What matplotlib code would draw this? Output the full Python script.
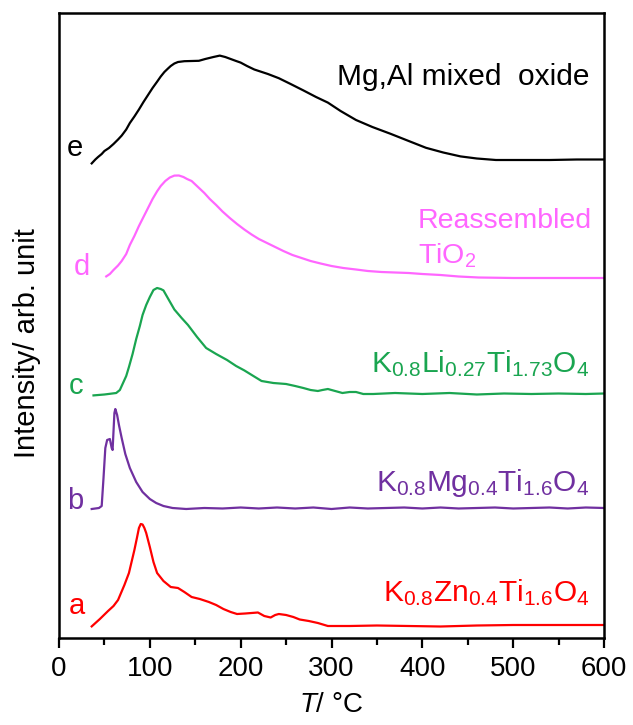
import matplotlib
matplotlib.use('Agg')
import matplotlib.pyplot as plt
from matplotlib.ticker import MultipleLocator

plt.rcParams['font.family'] = ['Liberation Sans', 'DejaVu Sans']
plt.rcParams['mathtext.fontset'] = 'custom'
plt.rcParams['mathtext.rm'] = 'Liberation Sans'
plt.rcParams['mathtext.it'] = 'Liberation Sans:italic'

# TPD-type curves, intensity in arb. unit above each curve's own baseline
T_a = [36, 45, 54, 60, 65, 72, 77, 83, 86, 88, 90, 92, 94, 96, 100, 104, 108, 115, 123, 131, 138, 146, 155,
       165, 173, 181, 189, 196, 205, 212, 219, 226, 233, 238, 242, 250, 258, 265, 275, 285, 296,
       320, 350, 385, 420, 460, 500, 550, 600]
I_a = [-1.4, 6, 14, 19, 25, 40, 52, 75, 88, 97, 101, 100.5, 97, 92, 78, 63, 52, 44, 38, 37, 33, 28, 26,
       23, 20, 16, 13, 11, 11.5, 12, 12.5, 9, 7.5, 10, 11, 10, 8, 5.5, 4, 2, -1,
       -1, -0.5, -1, -1.5, -0.5, 0, 0, 0]

T_b = [36, 44, 47, 49, 51, 53, 56, 58, 59, 61, 62, 64, 66, 69, 73, 78, 85, 92, 100, 107,
       115, 125, 140, 160, 180, 200, 220, 240, 260, 280, 300, 320, 340, 360, 380, 400, 420,
       440, 460, 480, 500, 520, 540, 560, 580, 600]
I_b = [-1, 0, 2, 30, 60, 68, 69, 60, 58, 95, 99, 93, 83, 70, 54, 40, 26, 16, 9, 5,
       2, 0, -1, 0, -0.5, 0.5, -0.5, 0.5, -0.5, 0.5, -1, 0.5, -0.5, 0, 0.5, -0.5, 0.5,
       -0.5, 0, 0.5, -0.5, 0, 0.5, -0.5, 0.5, 0]

T_c = [38, 50, 63, 67, 70, 74, 77, 81, 85, 89, 92, 96, 100, 104, 108, 112, 115, 121, 127, 135, 142, 152, 162, 173,
       185, 195, 204, 214, 223, 236, 250, 260, 269, 277, 285, 290, 296, 304, 312, 320, 327,
       335, 346, 370, 400, 430, 460, 490, 520, 550, 580, 600]
I_c = [-1.4, -0.5, 1, 4, 10, 18, 27, 40, 55, 68, 79, 89, 97, 104, 106, 105, 103.6, 94, 84.5, 76, 69, 57, 46, 40,
       34, 28, 23.6, 18, 13, 11, 10, 8, 6, 4, 3, 4, 5, 3, 1, 2, 2,
       0, 0, 1, 0, 1, -0.5, 0.5, 0, 0.5, 0, 0.5]

T_d = [52, 56, 60, 65, 69, 74, 78, 83, 88, 93, 98, 103, 108, 112, 117, 122, 127, 132, 137, 141,
       146, 153, 160, 166, 173, 180, 188, 196, 204, 212, 220, 229, 238, 247, 257, 267,
       277, 288, 300, 313, 327, 340, 355, 370, 385, 400, 420, 440, 462, 500, 550, 600]
I_d = [1.6, 4, 8, 12.5, 17, 24, 33, 42, 52, 61, 70, 79, 86.7, 92, 97, 100.5, 102.4, 102.5, 101, 99,
       97, 91, 85, 79, 73, 66.5, 60, 54, 48.5, 43.5, 39, 35, 31, 27, 23, 20,
       17, 14.5, 12, 10, 8.5, 7, 6, 5.5, 5, 4, 3, 1.5, 0.5, 0, 0, 0]

T_e = [36, 40, 43, 47, 50, 55, 60, 65, 69, 74, 78, 83, 88, 93, 98, 103, 108, 112, 116, 120, 123,
       127, 131, 138, 146, 154, 161, 170, 177, 183, 189, 195, 200, 207,
       215, 230, 242, 255, 269, 283, 296, 310, 327, 345, 365, 385, 404, 423, 442, 460, 481,
       510, 540, 570, 600]
I_e = [-3.4, 0.5, 3, 6, 9, 12, 16, 20.5, 24.4, 30.5, 37, 43.5, 50.5, 58, 65, 72, 78.3, 83.5, 88, 91.5, 94,
       96.5, 98, 98.8, 99, 99.2, 101, 103, 104.4, 103, 101, 99, 97.4, 94,
       90.5, 86, 81.8, 76, 69.6, 63, 57.4, 49, 40, 33, 26.2, 19, 12.2, 7.5, 3.6, 1.5, 0,
       0, 0, 0.5, 0.5]

curves = [(T_a, I_a), (T_b, I_b), (T_c, I_c), (T_d, I_d), (T_e, I_e)]
offsets = [13, 130, 244, 360, 478]
letters = ['a', 'b', 'c', 'd', 'e']
colors = ['#FF0000', '#7030A0', '#1AA550', '#FF66FF', '#000000']
letter_x = [20, 17.6, 19, 25, 17.6]
letter_y = [24, 129, 244, 363, 482]

names = [r'$\mathrm{K_{0.8}Zn_{0.4}Ti_{1.6}O_4}$',
         r'$\mathrm{K_{0.8}Mg_{0.4}Ti_{1.6}O_4}$',
         r'$\mathrm{K_{0.8}Li_{0.27}Ti_{1.73}O_4}$',
         'Reassembled',
         'Mg,Al mixed  oxide']
name_y = [37, 147, 266, 410, 553]

fig = plt.figure(figsize=(6.33, 7.25), dpi=100)
ax = fig.add_axes([59/633, 87/725, 545/633, 625/725])

for i in range(len(curves)):
    T, I = curves[i]
    ax.plot(T, [v + offsets[i] for v in I], color=colors[i], lw=1.6)
    ax.text(letter_x[i], letter_y[i], letters[i], color=colors[i], fontsize=21,
            ha='center', va='baseline')
    if i == 3:
        ax.text(395, name_y[i], names[i], color=colors[i], fontsize=20.5, ha='left', va='baseline')
        ax.text(395, 375, r'Ti$\mathrm{O_2}$', color=colors[i], fontsize=20.5, ha='left', va='baseline')
    else:
        ax.text(584, name_y[i], names[i], color=colors[i], fontsize=21.5, ha='right', va='baseline')

ax.set_xlim(0, 600)
ax.set_ylim(0, 625)
ax.set_yticks([])
ax.xaxis.set_major_locator(MultipleLocator(100))
ax.xaxis.set_minor_locator(MultipleLocator(50))
ax.tick_params(axis='x', which='major', direction='out', length=7, width=1.6, labelsize=20, pad=6)
ax.tick_params(axis='x', which='minor', direction='out', length=5, width=1.6)
for s in ax.spines.values():
    s.set_linewidth(1.8)

ax.set_xlabel(r'$T$/ °C', fontsize=20)
ax.xaxis.set_label_coords(0.5, -0.086)
ax.set_ylabel('Intensity/ arb. unit', fontsize=21)
ax.yaxis.set_label_coords(-0.033, 0.472)

fig.savefig('out.png', dpi=100)
